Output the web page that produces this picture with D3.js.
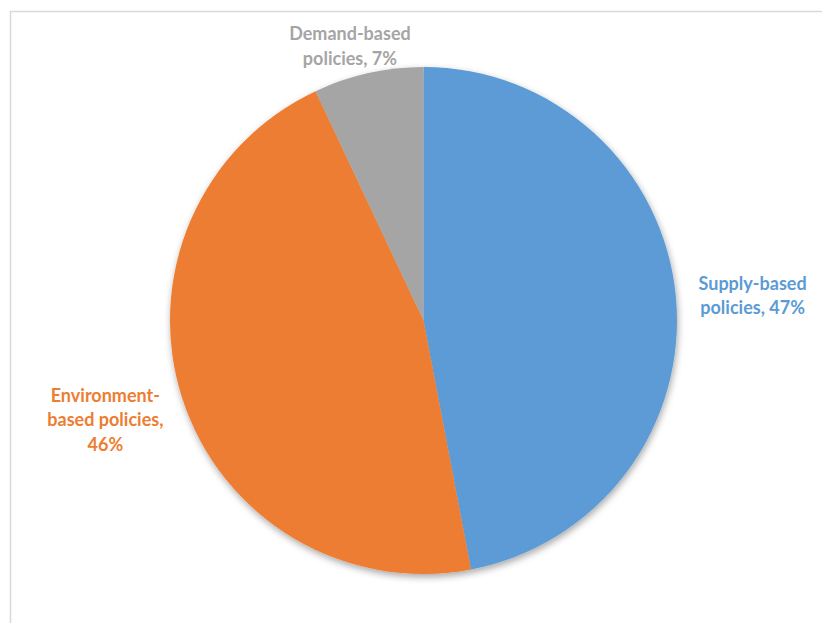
<!DOCTYPE html>
<html lang="en">
  <head>
    <meta charset="UTF-8" />
    <title>Policy types pie</title>
    <script src="https://cdn.jsdelivr.net/npm/d3@7"></script>
    <style>
      body { margin: 0; background: #fff; }
      svg { display: block; }
    </style>
  </head>
  <body>
    <svg width="822" height="623"></svg>
    <script>
      // data
      const categories = ["Supply-based policies", "Environment-based policies", "Demand-based policies"];
      const values = [47, 46, 7];
      const labelLines = [
        ["Supply-based", "policies, 47%"],
        ["Environment-", "based policies,", "46%"],
        ["Demand-based", "policies, 7%"]
      ];
      const colors = ["#5b9bd5", "#ed7d31", "#a5a5a5"];

      const width = 822, height = 623;
      const cx = 423.5, cy = 320.5, radius = 253.5;

      const svg = d3.select("svg");

      // chart frame (runs off the right and bottom edge)
      svg.append("rect")
        .attr("x", 10.5).attr("y", 11.5)
        .attr("width", 900).attr("height", 700)
        .attr("fill", "none")
        .attr("stroke", "#d9d9d9")
        .attr("stroke-width", 1.5);

      const defs = svg.append("defs");
      const f = defs.append("filter").attr("id", "shadow")
        .attr("x", "-10%").attr("y", "-10%").attr("width", "120%").attr("height", "120%");
      f.append("feDropShadow")
        .attr("dx", 1).attr("dy", 3)
        .attr("stdDeviation", 3.5)
        .attr("flood-color", "#000")
        .attr("flood-opacity", 0.35);

      const pie = d3.pie().sort(null).value(d => d);
      const slices = pie(values);
      const arc = d3.arc().innerRadius(0).outerRadius(radius);

      const g = svg.append("g").attr("transform", `translate(${cx},${cy})`);
      g.append("g").attr("filter", "url(#shadow)")
        .selectAll("path")
        .data(slices)
        .enter()
        .append("path")
        .attr("d", arc)
        .attr("fill", (d, i) => colors[i]);

      // labels sit just outside the edge, like Excel's "outside end"
      const fontSize = 18, lineH = 24.5, gapX = 23, nudgeY = 1;
      const labels = g.selectAll("text.lbl")
        .data(slices)
        .enter()
        .append("text")
        .attr("class", "lbl")
        .attr("text-anchor", "middle")
        .attr("font-family", "Lato, 'Open Sans', sans-serif")
        .attr("font-weight", "bold")
        .attr("font-size", fontSize)
        .attr("fill", (d, i) => colors[i]);

      labels.each(function(d, i) {
        const t = d3.select(this);
        const lines = labelLines[i];
        lines.forEach((s, k) => {
          t.append("tspan").attr("x", 0).attr("dy", k === 0 ? 0 : lineH).text(s);
        });
        const bb = this.getBBox();
        const mid = (d.startAngle + d.endAngle) / 2;
        const dx = Math.sin(mid), dy = -Math.cos(mid);
        const hw = bb.width / 2, hh = bb.height / 2;
        const gapY = dy > 0 ? 28 : 6;
        const px = dx * (radius + gapX) + dx * hw;
        const py = dy * (radius + gapY) + dy * hh + nudgeY;
        // shift so the box centre lands on (px, py)
        const bcx = bb.x + hw, bcy = bb.y + hh;
        t.attr("transform", `translate(${px - bcx},${py - bcy})`);
      });
    </script>
  </body>
</html>
